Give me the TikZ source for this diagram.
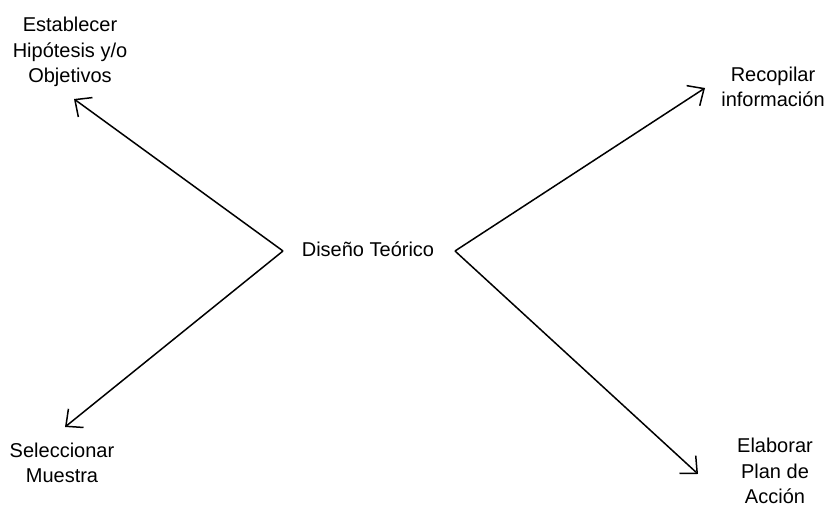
\documentclass[tikz,border=0pt]{standalone}
\usepackage{fontspec}
\setmainfont{Liberation Sans}
\usetikzlibrary{arrows.meta}
\tikzset{
  lbl/.style={align=center, inner sep=0pt, font=\fontsize{20}{25.5}\selectfont},
  conn/.style={line width=1.5pt, -{Straight Barb[length=13pt,width=24pt,line width=1.5pt]}}
}
\begin{document}
\begin{tikzpicture}[x=1pt,y=-1pt]
\useasboundingbox (0,0) rectangle (831,510);
\node[lbl] (center) at (368,249) {Diseño Teórico};
\node[lbl] (hyp) at (70,52) {Establecer\\Hipótesis y/o\\Objetivos};
\node[lbl] (rec) at (773,87) {Recopilar\\información};
\node[lbl] (sel) at (62,463) {Seleccionar\\Muestra};
\node[lbl] (ela) at (775,471) {Elaborar\\Plan de\\Acción};
\coordinate (vl) at (283,251);
\coordinate (vr) at (455,251);
\coordinate (thyp) at (74,99);
\coordinate (tsel) at (65,427);
\coordinate (trec) at (705,88);
\coordinate (tela) at (698,474);
\draw[conn] (vl) -- (thyp);
\draw[conn] (vl) -- (tsel);
\draw[conn] (vr) -- (trec);
\draw[conn] (vr) -- (tela);
\end{tikzpicture}
\end{document}
